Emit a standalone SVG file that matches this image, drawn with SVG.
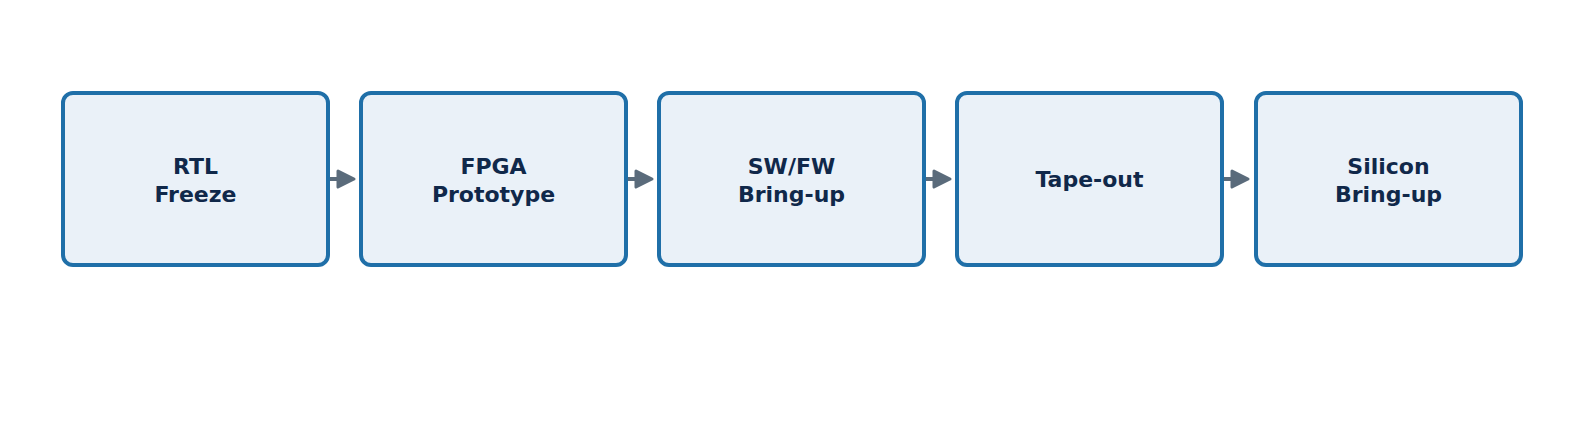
<svg xmlns="http://www.w3.org/2000/svg" width="1589" height="440" viewBox="0 0 1589 440">
<style>
.box{fill:#eaf1f8;stroke:#1f6fa8;stroke-width:4}
.t{font-family:"DejaVu Sans",sans-serif;font-weight:bold;font-size:22px;fill:#10284a;text-anchor:middle}
.c{stroke:#5a6b7b;stroke-width:4;fill:none}
.h{fill:#5a6b7b;stroke:#5a6b7b;stroke-width:3;stroke-linejoin:round}
</style>
<rect width="1589" height="440" fill="#fff"/>
<g id="n1"><rect class="box" x="63" y="93" width="265" height="172" rx="10"/><text class="t" x="195.5" y="174">RTL</text><text class="t" x="195.5" y="202">Freeze</text></g>
<g id="n2"><rect class="box" x="361" y="93" width="265" height="172" rx="10"/><text class="t" x="493.5" y="174">FPGA</text><text class="t" x="493.5" y="202">Prototype</text></g>
<g id="n3"><rect class="box" x="659" y="93" width="265" height="172" rx="10"/><text class="t" x="791.5" y="174">SW/FW</text><text class="t" x="791.5" y="202">Bring-up</text></g>
<g id="n4"><rect class="box" x="957" y="93" width="265" height="172" rx="10"/><text class="t" x="1089.5" y="187">Tape-out</text></g>
<g id="n5"><rect class="box" x="1256" y="93" width="265" height="172" rx="10"/><text class="t" x="1388.5" y="174">Silicon</text><text class="t" x="1388.5" y="202">Bring-up</text></g>
<g id="connectors">
<line class="c" x1="330" y1="179" x2="342" y2="179"/><polygon class="h" points="338,171 354,179 338,187"/>
<line class="c" x1="628" y1="179" x2="640" y2="179"/><polygon class="h" points="636,171 652,179 636,187"/>
<line class="c" x1="926" y1="179" x2="938" y2="179"/><polygon class="h" points="934,171 950,179 934,187"/>
<line class="c" x1="1224" y1="179" x2="1236" y2="179"/><polygon class="h" points="1232,171 1248,179 1232,187"/>
</g>
</svg>
